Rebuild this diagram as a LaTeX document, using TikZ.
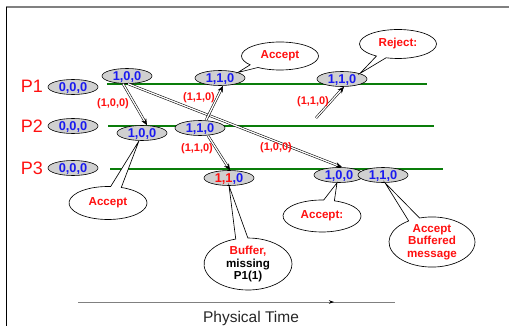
\documentclass[tikz,border=0pt]{standalone}
\usepackage{fontspec}
\setmainfont{Liberation Sans}
\usetikzlibrary{shapes.geometric,shapes.callouts,arrows.meta}
\definecolor{clockgray}{HTML}{D0D0D0}
\definecolor{linegreen}{HTML}{0A7D0A}
\definecolor{vred}{HTML}{FF1010}
\definecolor{vblue}{HTML}{1A1AF0}
\definecolor{framegray}{HTML}{808080}

\begin{document}
\begin{tikzpicture}[x=1pt,y=-1pt,
  clock/.style={ellipse, draw=black, line width=0.6pt, fill=clockgray,
    minimum width=50pt, minimum height=15pt, inner sep=0pt,
    text height=9pt, text depth=0pt, text=vblue,
    font=\fontsize{12.8}{12.8}\selectfont\bfseries},
  proc/.style={inner sep=0pt, text=vred, font=\fontsize{18}{18}\selectfont},
  timeline/.style={draw=linegreen, line width=1.6pt},
  stamp/.style={inner sep=0pt, text=vred, font=\fontsize{11}{11}\selectfont\bfseries},
  msg/.style={draw=black, double=white, line width=0.55pt, double distance=1.3pt,
    -{Stealth[length=6.5pt,width=5.5pt]}},
  note/.style={ellipse callout, draw=black, line width=0.65pt, fill=white,
    inner sep=0pt, align=center, text=vred, callout pointer arc=16,
    font=\fontsize{11.6}{12.5}\selectfont\bfseries},
]
\useasboundingbox (0,0) rectangle (509,326);

% page frame
\draw[framegray, line width=1.5pt] (6,7) -- (509,7);
\draw[black, line width=0.8pt] (6,7) -- (6,326);

% process names
\node[proc] (P1) at (32,86) {P1};
\node[proc] (P2) at (32,126) {P2};
\node[proc] (P3) at (32,168) {P3};

% process time lines
\coordinate (l1a) at (107,84);  \coordinate (l1b) at (427,84);
\coordinate (l2a) at (108,126); \coordinate (l2b) at (434,126);
\coordinate (l3a) at (110,169); \coordinate (l3b) at (443,169);
\draw[timeline] (l1a) -- (l1b);
\draw[timeline] (l2a) -- (l2b);
\draw[timeline] (l3a) -- (l3b);

% initial clocks
\node[clock] (p1o) at (73,87) {0,0,0};
\node[clock] (p2o) at (73,126) {0,0,0};
\node[clock] (p3o) at (73,168) {0,0,0};

% events
\node[clock] (p1a) at (127,76) {1,0,0};
\node[clock] (p1b) at (220,78) {1,1,0};
\node[clock] (p1c) at (342,79) {1,1,0};
\node[clock] (p2a) at (142,133) {1,0,0};
\node[clock] (p2b) at (200,128) {1,1,0};
\node[clock] (p3b) at (229,178) {{\color{vred}1,1},0};
\node[clock] (p3a) at (339,175) {1,0,0};
\node[clock] (p3c) at (383,175) {1,1,0};

% messages
\coordinate (late) at (316,118);
\draw[msg] ([xshift=-4pt]p1a.south) -- ([xshift=5pt]p2a.north);
\draw[msg] ([xshift=1pt]p1a.south) -- ([xshift=3pt]p3a.north);
\draw[msg] ([xshift=6pt]p2b.north) -- ([xshift=3pt]p1b.south);
\draw[msg] ([xshift=8pt]p2b.south) -- ([xshift=1pt]p3b.north);
\draw[msg] (late) -- ([xshift=2pt]p1c.south);

\node[stamp] (s1) at (113,104) {(1,0,0)};
\node[stamp] (s2) at (199,98) {(1,1,0)};
\node[stamp] (s3) at (197,149) {(1,1,0)};
\node[stamp] (s4) at (276,148) {(1,0,0)};
\node[stamp] (s5) at (313,102) {(1,1,0)};

% call-outs
\node[note, minimum width=77pt, minimum height=28pt,
  callout absolute pointer={(p1b.north east)}] (n1) at (280,56) {Accept};
\node[note, minimum width=77pt, minimum height=29pt,
  callout absolute pointer={(p1c.north east)}] (n2) at (398,44) {Reject:};
\node[note, minimum width=78pt, minimum height=33pt,
  callout absolute pointer={([xshift=-3pt]p2a.south)}] (n3) at (108,203) {Accept};
\node[note, minimum width=88pt, minimum height=52pt,
  callout absolute pointer={(p3b.south)}] (n4) at (248,264)
  {Buffer,\\{\color{black}missing}\\{\color{black}P1(1)}};
\node[note, minimum width=78pt, minimum height=32pt,
  callout absolute pointer={([xshift=-2pt]p3a.south)}] (n5) at (322,216) {Accept:};
\node[note, minimum width=86pt, minimum height=50pt,
  callout absolute pointer={([xshift=2pt]p3c.south)}] (n6) at (432,242)
  {Accept\\Buffered\\message};

% physical time axis
\coordinate (t0) at (78,302);
\coordinate (tm) at (334,302);
\coordinate (t1) at (395,302);
\draw[framegray, line width=1pt] (t0) -- (t1);
\draw[framegray, line width=1pt, -{Stealth[length=5pt,width=3.5pt,color=black]}] (t0) -- (tm);
\node[inner sep=0pt, text=black!85, font=\fontsize{15.5}{15.5}\selectfont] (pt) at (251,318) {Physical Time};
\end{tikzpicture}
\end{document}
